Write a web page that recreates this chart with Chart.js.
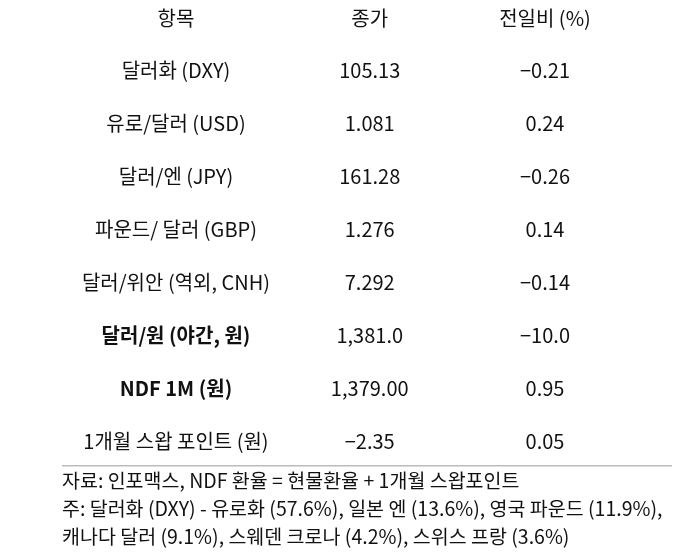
<!DOCTYPE html>
<html><head><meta charset="utf-8">
<script src="https://cdn.jsdelivr.net/npm/chart.js@4"></script>
<style>html,body{margin:0;background:#fff}#wrap{width:680px;height:558px}</style>
</head><body><div id="wrap"><canvas id="c"></canvas></div>
<script>
const headers = ['항목', '종가', '전일비 (%)'];
const items = ['달러화 (DXY)', '유로/달러 (USD)', '달러/엔 (JPY)', '파운드/ 달러 (GBP)', '달러/위안 (역외, CNH)', '달러/원 (야간, 원)', 'NDF 1M (원)', '1개월 스왑 포인트 (원)'];
const closes = ['105.13', '1.081', '161.28', '1.276', '7.292', '1,381.0', '1,379.00', '-2.35'];
const changes = ['-0.21', '0.24', '-0.26', '0.14', '-0.14', '-10.0', '0.95', '0.05'];
const boldRows = [5, 6];
const notes = ['자료: 인포맥스, NDF 환율 = 현물환율 + 1개월 스왑포인트',
  '주: 달러화 (DXY) - 유로화 (57.6%), 일본 엔 (13.6%), 영국 파운드 (11.9%),',
  '캐나다 달러 (9.1%), 스웨덴 크로나 (4.2%), 스위스 프랑 (3.6%)'];
const F = '"Noto Sans CJK KR", "Noto Sans", sans-serif';
const colPos = [0, 1.05, 2];
const tablePlugin = {
  id: 'table',
  afterDraw(chart) {
    const ctx = chart.ctx, xs = chart.scales.x, ys = chart.scales.y;
    const cx = i => xs.getPixelForValue(colPos[i]);
    ctx.save();
    ctx.fillStyle = '#111';
    ctx.textAlign = 'center'; ctx.textBaseline = 'middle';
    ctx.font = '20px ' + F;
    headers.forEach((h, i) => ctx.fillText(h, cx(i), ys.getPixelForValue(0)));
    items.forEach((t, r) => {
      const y = ys.getPixelForValue(r + 1);
      ctx.font = (boldRows.includes(r) ? 'bold ' : '') + '20px ' + F;
      ctx.fillText(t, cx(0), y);
      ctx.font = '20px ' + F;
      ctx.fillText(closes[r].replace('-', '\u2212'), cx(1), y);
      ctx.fillText(changes[r].replace('-', '\u2212'), cx(2), y);
    });
    const ly = ys.getPixelForValue(8.47);
    ctx.strokeStyle = '#bbb'; ctx.lineWidth = 1.5;
    ctx.beginPath(); ctx.moveTo(62, ly); ctx.lineTo(672, ly); ctx.stroke();
    ctx.textAlign = 'left'; ctx.font = '19.5px ' + F;
    [8.74, 9.27, 9.8].forEach((v, i) => ctx.fillText(notes[i], 62, ys.getPixelForValue(v)));
    ctx.restore();
  }
};
new Chart(document.getElementById('c'), {
  type: 'scatter',
  data: { datasets: [{ data: [] }] },
  options: {
    responsive: true, maintainAspectRatio: false, animation: false,
    layout: { padding: { left: 176, right: 135, top: 18, bottom: 117 } },
    plugins: { legend: { display: false }, tooltip: { enabled: false } },
    scales: {
      x: { type: 'linear', min: 0, max: 2, display: false },
      y: { type: 'linear', min: 0, max: 8, reverse: true, display: false }
    }
  },
  plugins: [tablePlugin]
});
</script></body></html>
